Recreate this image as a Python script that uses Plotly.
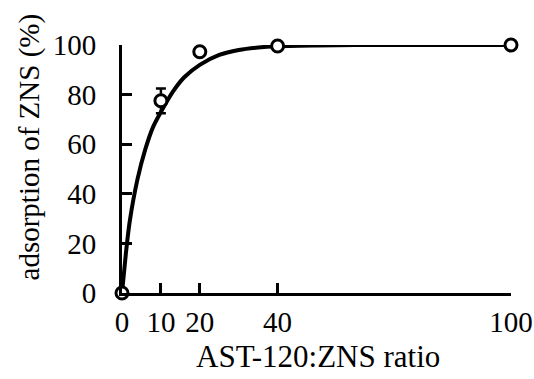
import plotly.graph_objects as go

# measured points
ratio = [0, 10, 20, 40, 100]
adsorption = [0, 77.5, 97.3, 99.6, 100]
err_up = [0, 5, 0, 0, 0]

# fitted curve
curve_x = [0, 1, 2, 4, 6, 8, 10, 13, 16, 20, 25, 30, 35, 40, 50, 60, 80, 100]
curve_y = [0, 16, 29, 46, 58, 67, 73, 81, 87, 92, 96, 98, 99, 99.5, 99.8, 100, 100, 100]

x_ticks = [0, 10, 20, 40, 100]
y_ticks = [0, 20, 40, 60, 80, 100]
x_title = "AST-120:ZNS ratio"
y_title = "adsorption of ZNS (%)"

font = "Liberation Serif"

fig = go.Figure()
fig.add_trace(go.Scatter(
    x=curve_x, y=curve_y, mode="lines",
    line=dict(color="black", width=4, shape="spline", smoothing=0.6),
    hoverinfo="skip", cliponaxis=False, showlegend=False))
fig.add_trace(go.Scatter(
    x=ratio, y=adsorption, mode="markers",
    marker=dict(symbol="circle", size=12, color="white",
                line=dict(color="black", width=3)),
    error_y=dict(type="data", array=err_up, symmetric=True,
                 color="black", thickness=2.5, width=5),
    cliponaxis=False, showlegend=False))

axis_common = dict(
    showline=True, linecolor="black", linewidth=3,
    ticks="inside", ticklen=10, tickwidth=3, tickcolor="black",
    showgrid=False, zeroline=False, ticklabeloverflow="allow", automargin=False,
)
fig.update_xaxes(range=[0, 100], tickvals=x_ticks, ticklabelstandoff=1,
                 tickfont=dict(family=font, size=29, color="black"), **axis_common)
fig.update_yaxes(range=[0, 100], tickvals=y_ticks, ticklabelstandoff=17,
                 tickfont=dict(family=font, size=29, color="black"), **axis_common)

fig.add_annotation(text=x_title, xref="paper", yref="paper", x=0.503, y=-0.258,
                   xanchor="center", yanchor="middle", showarrow=False,
                   font=dict(family=font, size=31, color="black"))
fig.add_annotation(text=y_title, xref="paper", yref="paper", x=-0.237, y=0.59,
                   xanchor="center", yanchor="middle", showarrow=False, textangle=-90,
                   font=dict(family=font, size=29, color="black"))

fig.update_layout(
    width=534, height=379,
    margin=dict(l=122, r=23, t=45, b=86, autoexpand=False),
    plot_bgcolor="white", paper_bgcolor="white",
)
# remove the default 8px page margin so the figure fills the window exactly
fig.write_html("out.html",
               config={"displayModeBar": False},
               post_script="document.body.style.margin='0';document.body.style.overflow='hidden';")
